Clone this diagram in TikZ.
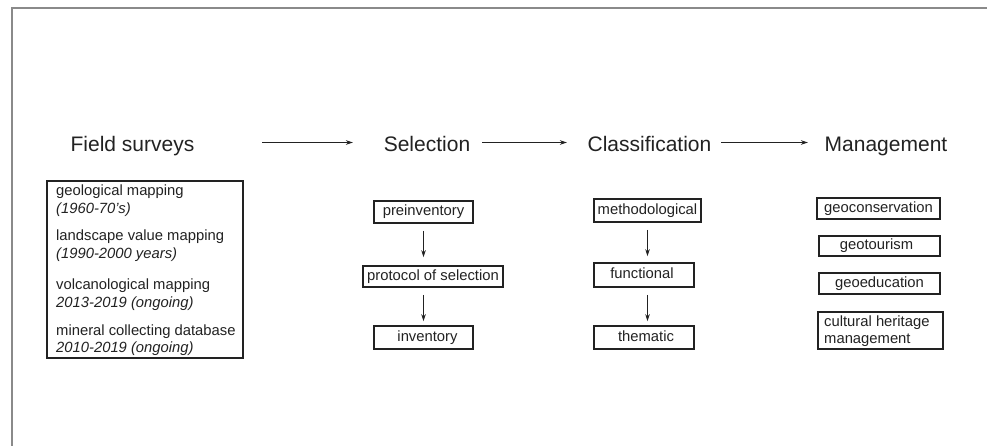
\documentclass[tikz,border=0pt]{standalone}
\usepackage{fontspec}
\setmainfont{Liberation Sans}
\usetikzlibrary{arrows.meta}
\definecolor{ink}{HTML}{222222}
\definecolor{framegray}{HTML}{8A8A8A}
\tikzset{
  head/.style={font=\fontsize{21}{25}\selectfont, text=ink, inner sep=0pt, anchor=base},
  boxnode/.style={draw=ink, line width=1.7pt, rectangle, inner sep=0pt,
    font=\fontsize{14.8}{17.5}\selectfont, text=ink, text height=10.6pt, text depth=3.1pt},
  ftext/.style={font=\fontsize{14.8}{17.5}\selectfont, text=ink, inner sep=0pt, align=left, anchor=west},
  bigarrow/.style={draw=ink, line width=1.2pt, -{Stealth[length=7pt,width=4.5pt]}},
  smallarrow/.style={draw=ink, line width=1.2pt, -{Stealth[length=7pt,width=4.5pt]}}
}
\begin{document}
\begin{tikzpicture}[x=1pt,y=-1pt]
\useasboundingbox (0,0) rectangle (987,446);
\fill[white] (0,0) rectangle (987,446);
% frame
\draw[framegray, line width=1.5pt] (12,446) -- (12,8) -- (987,8);

% headers
\node[head] (fsurv) at (132.5,152) {Field surveys};
\node[head] (sel) at (427,152) {Selection};
\node[head] (cls) at (649.5,152) {Classification};
\node[head] (mgmt) at (886,152) {Management};

\coordinate (a1s) at (262,142.5);
\coordinate (a1e) at (353,142.5);
\coordinate (a2s) at (482,142.5);
\coordinate (a2e) at (567,142.5);
\coordinate (a3s) at (721,142.5);
\coordinate (a3e) at (808,142.5);
\draw[bigarrow] (a1s) -- (a1e);
\draw[bigarrow] (a2s) -- (a2e);
\draw[bigarrow] (a3s) -- (a3e);

% field surveys box
\node[draw=ink, line width=1.7pt, minimum width=196pt, minimum height=177pt, inner sep=0pt] (fbox) at (145,269.5) {};
\node[ftext] (f1) at (56,200.5) {geological mapping\\\itshape (1960-70's)};
\node[ftext] (f2) at (56,245.5) {landscape value mapping\\\itshape (1990-2000 years)};
\node[ftext] (f3) at (56,294.5) {volcanological mapping\\\itshape 2013-2019 (ongoing)};
\node[ftext] (f4) at (56,340) {mineral collecting database\\\itshape 2010-2019 (ongoing)};

% selection
\node[boxnode, minimum width=99pt, minimum height=22pt] (pre) at (423.5,212) {preinventory};
\node[boxnode, minimum width=140pt, minimum height=21pt] (prot) at (433,276.5) {protocol of selection};
\node[boxnode, minimum width=99pt, minimum height=23pt] (inv) at (423.5,337.5) {\hspace*{8pt}inventory};
\draw[smallarrow, shorten <=7pt, shorten >=8pt] (pre.south) -- (pre.south |- prot.north);
\draw[smallarrow, shorten <=7pt, shorten >=4pt] (pre.south |- prot.south) -- (pre.south |- inv.north);

% classification
\node[boxnode, minimum width=107pt, minimum height=23pt] (meth) at (647.5,210.5) {methodological};
\node[boxnode, minimum width=100pt, minimum height=24pt] (func) at (644,275) {functional\hspace*{4pt}};
\node[boxnode, minimum width=100pt, minimum height=23pt] (them) at (644,337.5) {\hspace*{4pt}thematic};
\draw[smallarrow, shorten <=7pt, shorten >=6pt] (meth.south) -- (meth.south |- func.north);
\draw[smallarrow, shorten <=7pt, shorten >=4pt] (meth.south |- func.south) -- (meth.south |- them.north);

% management
\node[boxnode, minimum width=123pt, minimum height=21pt] (gcon) at (878.5,208.5) {geoconservation};
\node[boxnode, minimum width=121pt, minimum height=20pt] (gtour) at (879.5,246) {geotourism\hspace*{6pt}};
\node[boxnode, minimum width=121pt, minimum height=21pt] (gedu) at (879.5,283.5) {geoeducation};
\node[draw=ink, line width=1.7pt, minimum width=125pt, minimum height=37pt, inner sep=0pt] (chm) at (880.5,330.5) {};
\node[ftext] (chmt) at (824,331) {cultural heritage\\management};
\end{tikzpicture}
\end{document}
